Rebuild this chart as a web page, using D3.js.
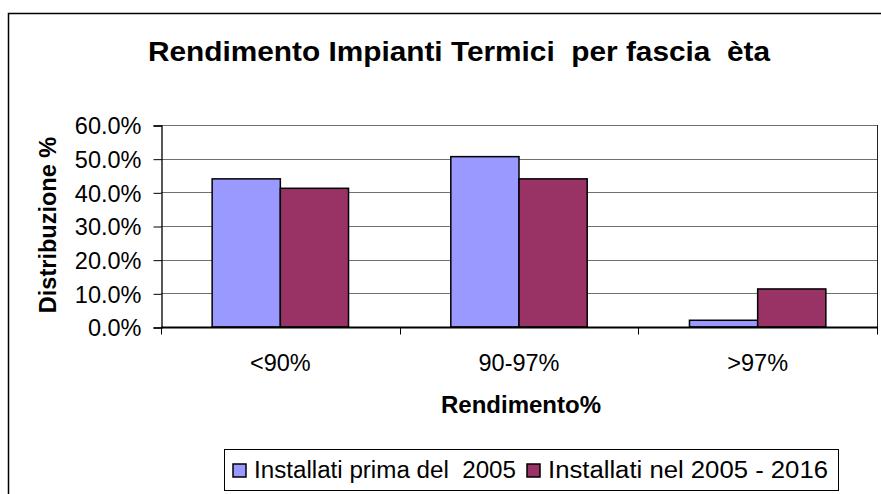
<!DOCTYPE html>
<html>
<head>
<meta charset="utf-8">
<script src="https://cdn.jsdelivr.net/npm/d3@7"></script>
<style>
  body { margin: 0; background: #fff; }
  text { font-family: "Liberation Sans", Arial, sans-serif; white-space: pre; }
</style>
</head>
<body>
<svg id="chart"></svg>
<script>
const categories = ["<90%", "90-97%", ">97%"];
const seriesNames = ["Installati prima del  2005", "Installati nel 2005 - 2016"];
const primaValues = [0.440, 0.506, 0.020];
const nelValues = [0.412, 0.440, 0.113];
const yTicks = [0, 0.1, 0.2, 0.3, 0.4, 0.5, 0.6];
const colors = ["#9999FF", "#993366"];

const width = 881;
const height = 494;

const svg = d3.select("#chart")
  .attr("width", width)
  .attr("height", height);

// outer chart border
svg.append("rect")
  .attr("x", 8.5).attr("y", 13.5)
  .attr("width", 890).attr("height", 500)
  .attr("fill", "#fff")
  .attr("stroke", "#000")
  .attr("stroke-width", 1.5);

const plot = { left: 161, right: 877, top: 125, bottom: 327 };

const x = d3.scaleBand()
  .domain(categories)
  .range([plot.left, plot.right]);

const y = d3.scaleLinear()
  .domain([0, 0.6])
  .range([plot.bottom, plot.top]);

// gridlines
svg.append("g")
  .selectAll("line")
  .data(yTicks.slice(1))
  .enter()
  .append("line")
  .attr("x1", plot.left).attr("x2", plot.right)
  .attr("y1", d => Math.round(y(d)) + 0.5)
  .attr("y2", d => Math.round(y(d)) + 0.5)
  .attr("stroke", "#707070")
  .attr("stroke-width", 1);

// right plot border
svg.append("line")
  .attr("x1", plot.right + 0.5).attr("x2", plot.right + 0.5)
  .attr("y1", plot.top).attr("y2", plot.bottom)
  .attr("stroke", "#222");

// y axis
const yAxis = d3.axisLeft(y)
  .tickValues(yTicks)
  .tickFormat(d3.format(".1%"))
  .tickSize(8)
  .tickPadding(12);

const yG = svg.append("g")
  .attr("transform", `translate(${plot.left + 0.5},0.5)`)
  .call(yAxis);
yG.select(".domain").attr("stroke", "#000").attr("stroke-width", 1.3);
yG.selectAll(".tick line").attr("stroke", "#000");
yG.selectAll("text")
  .attr("font-size", 23.5)
  .attr("dy", "0.36em")
  .attr("fill", "#000")
  .style("font-family", "'Liberation Sans', Arial, sans-serif");

// bars
const barW = x.bandwidth() / 3.5;
const groups = svg.append("g")
  .selectAll("g")
  .data(categories)
  .enter()
  .append("g")
  .attr("transform", d => `translate(${x(d) + x.bandwidth() / 2},0)`);

groups.append("rect")
  .attr("x", -barW)
  .attr("y", (d, i) => y(primaValues[i]))
  .attr("width", barW)
  .attr("height", (d, i) => y(0) - y(primaValues[i]))
  .attr("fill", colors[0])
  .attr("stroke", "#000")
  .attr("stroke-width", 1.5);

groups.append("rect")
  .attr("x", 0)
  .attr("y", (d, i) => y(nelValues[i]))
  .attr("width", barW)
  .attr("height", (d, i) => y(0) - y(nelValues[i]))
  .attr("fill", colors[1])
  .attr("stroke", "#000")
  .attr("stroke-width", 1.5);

// x axis
const xG = svg.append("g")
  .attr("transform", `translate(0,${plot.bottom + 0.5})`);
xG.append("line")
  .attr("x1", plot.left).attr("x2", plot.right + 1)
  .attr("stroke", "#000").attr("stroke-width", 2);
xG.selectAll(".xtick")
  .data(categories.concat(["end"]))
  .enter()
  .append("line")
  .attr("x1", (d, i) => Math.round(plot.left + i * x.step()) + 0.5)
  .attr("x2", (d, i) => Math.round(plot.left + i * x.step()) + 0.5)
  .attr("y1", 0).attr("y2", 7)
  .attr("stroke", "#000");
xG.selectAll(".xlabel")
  .data(categories)
  .enter()
  .append("text")
  .attr("x", d => x(d) + x.bandwidth() / 2)
  .attr("y", 43.5)
  .attr("text-anchor", "middle")
  .attr("font-size", 23.5)
  .text(d => d);

// titles
svg.append("text")
  .attr("x", 459)
  .attr("y", 61)
  .attr("text-anchor", "middle")
  .attr("font-size", 28)
  .attr("font-weight", "bold")
  .attr("textLength", 622)
  .attr("lengthAdjust", "spacingAndGlyphs")
  .text("Rendimento Impianti Termici  per fascia  èta");

svg.append("text")
  .attr("x", 521)
  .attr("y", 413)
  .attr("text-anchor", "middle")
  .attr("font-size", 24)
  .attr("font-weight", "bold")
  .text("Rendimento%");

svg.append("text")
  .attr("transform", `translate(56,${(plot.top + plot.bottom) / 2 - 1}) rotate(-90)`)
  .attr("text-anchor", "middle")
  .attr("font-size", 23.5)
  .attr("font-weight", "bold")
  .text("Distribuzione %");

// legend
const legend = svg.append("g").attr("id", "legend");
legend.append("rect")
  .attr("x", 224.5).attr("y", 449.5)
  .attr("width", 614).attr("height", 41)
  .attr("fill", "#fff")
  .attr("stroke", "#000");

const legendX = [233, 527];
const legendLen = [262, 280];
seriesNames.forEach((name, i) => {
  legend.append("rect")
    .attr("x", legendX[i]).attr("y", 464)
    .attr("width", 13).attr("height", 13)
    .attr("fill", colors[i])
    .attr("stroke", "#000")
    .attr("stroke-width", 1.5);
  legend.append("text")
    .attr("x", legendX[i] + 21)
    .attr("y", 478)
    .attr("font-size", 23.5)
    .attr("textLength", legendLen[i])
    .attr("lengthAdjust", "spacingAndGlyphs")
    .text(name);
});
</script>
</body>
</html>
